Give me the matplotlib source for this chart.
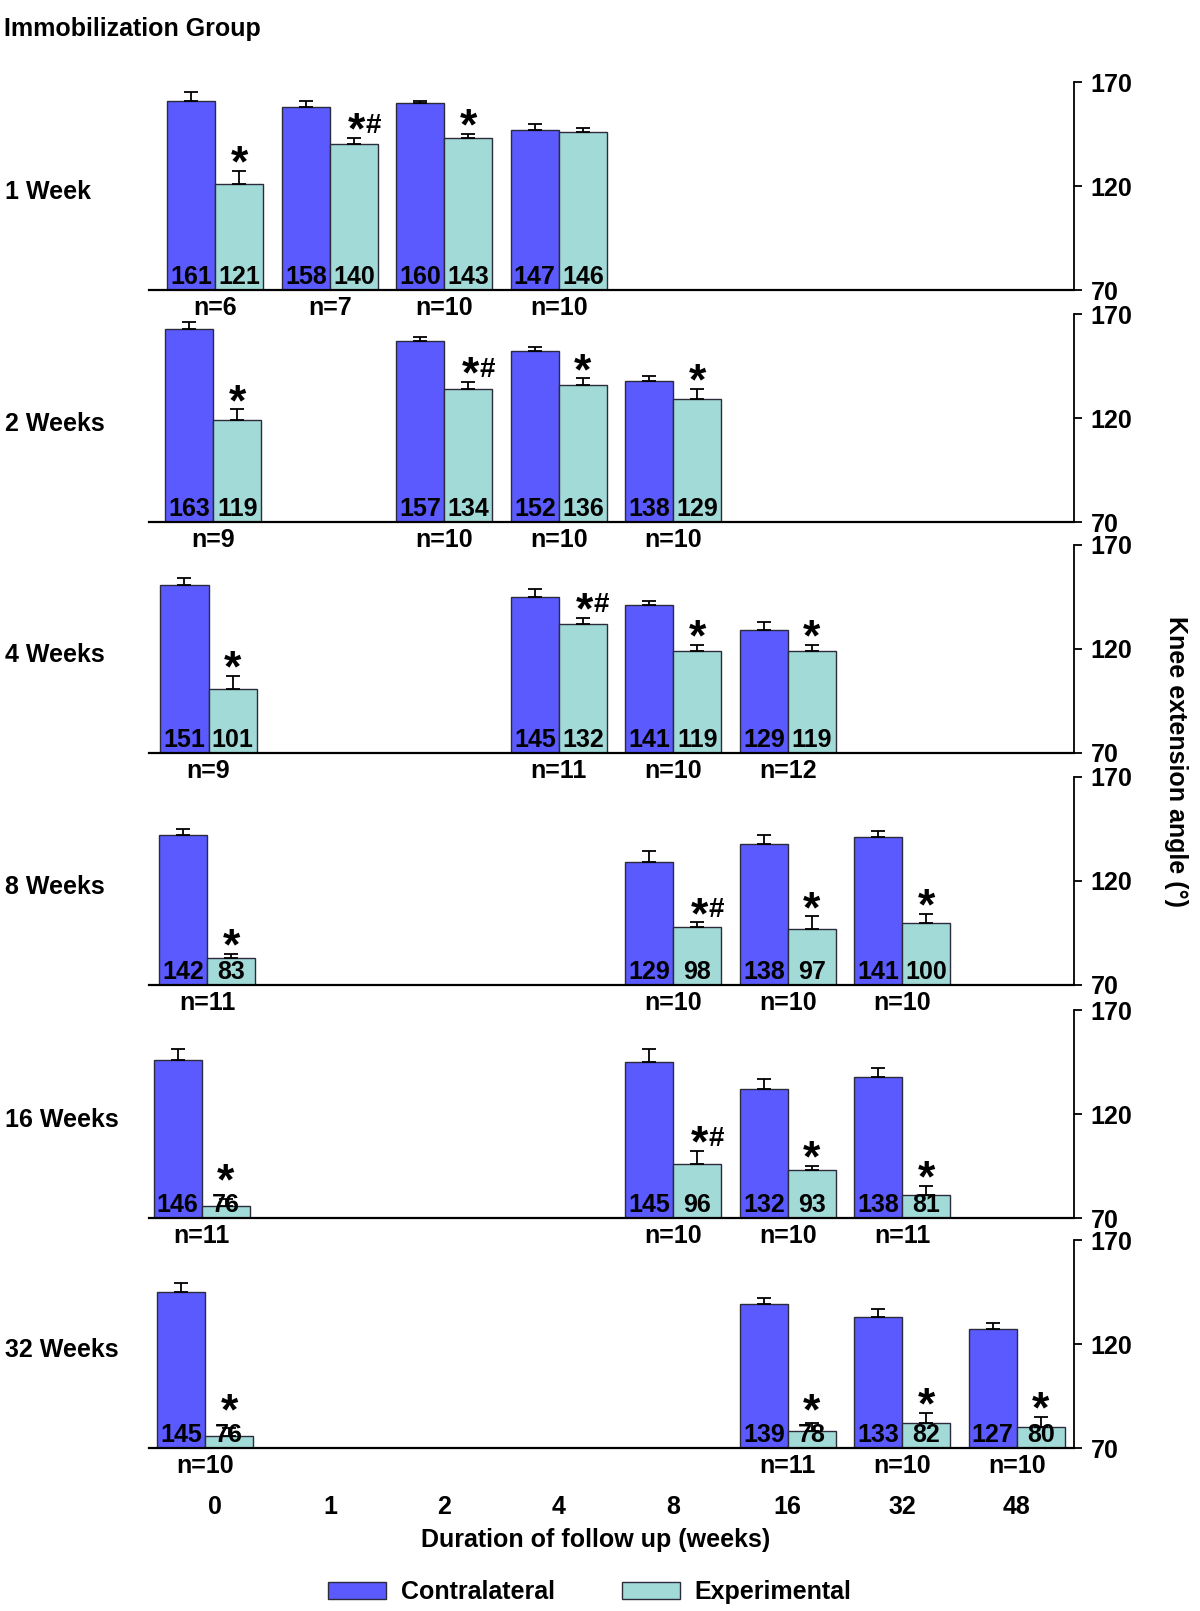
import matplotlib
matplotlib.use('Agg')
import matplotlib.pyplot as plt
from matplotlib.patches import Patch

plt.rcParams['font.family'] = ['Liberation Sans', 'DejaVu Sans']
plt.rcParams['font.weight'] = 'bold'

# x categories (weeks of follow up)
week_labels = ['0', '1', '2', '4', '8', '16', '32', '48']
row_names = ['1 Week', '2 Weeks', '4 Weeks', '8 Weeks', '16 Weeks', '32 Weeks']

# one list set per immobilization panel (index into week_labels)
p1_cats = [0, 1, 2, 3]
p1_contra = [161, 158, 160, 147]
p1_contra_se = [4.0, 3.0, 1.0, 3.0]
p1_exp = [121, 140, 143, 146]
p1_exp_se = [6.4, 3.0, 2.1, 2.1]
p1_n = [6, 7, 10, 10]
p1_marks = ['*', '*#', '*', '']

p2_cats = [0, 2, 3, 4]
p2_contra = [163, 157, 152, 138]
p2_contra_se = [3.0, 2.1, 1.9, 2.1]
p2_exp = [119, 134, 136, 129]
p2_exp_se = [5.1, 3.2, 3.0, 5.1]
p2_n = [9, 10, 10, 10]
p2_marks = ['*', '*#', '*', '*']

p3_cats = [0, 3, 4, 5]
p3_contra = [151, 145, 141, 129]
p3_contra_se = [3.0, 4.0, 1.9, 4.0]
p3_exp = [101, 132, 119, 119]
p3_exp_se = [6.2, 2.9, 2.9, 2.9]
p3_n = [9, 11, 10, 12]
p3_marks = ['*', '*#', '*', '*']

p4_cats = [0, 4, 5, 6]
p4_contra = [142, 129, 138, 141]
p4_contra_se = [2.9, 5.3, 4.0, 2.9]
p4_exp = [83, 98, 97, 100]
p4_exp_se = [2.1, 2.1, 6.0, 4.0]
p4_n = [11, 10, 10, 10]
p4_marks = ['*', '*#', '*', '*']

p5_cats = [0, 4, 5, 6]
p5_contra = [146, 145, 132, 138]
p5_contra_se = [5.1, 6.1, 4.8, 4.2]
p5_exp = [76, 96, 93, 81]
p5_exp_se = [3.0, 6.1, 2.1, 4.3]
p5_n = [11, 10, 10, 11]
p5_marks = ['*', '*#', '*', '*']

p6_cats = [0, 5, 6, 7]
p6_contra = [145, 139, 133, 127]
p6_contra_se = [4.2, 3.0, 4.0, 2.9]
p6_exp = [76, 78, 82, 80]
p6_exp_se = [3.5, 4.0, 5.0, 5.0]
p6_n = [10, 11, 10, 10]
p6_marks = ['*', '*', '*', '*']

panels = [
    (p1_cats, p1_contra, p1_contra_se, p1_exp, p1_exp_se, p1_n, p1_marks),
    (p2_cats, p2_contra, p2_contra_se, p2_exp, p2_exp_se, p2_n, p2_marks),
    (p3_cats, p3_contra, p3_contra_se, p3_exp, p3_exp_se, p3_n, p3_marks),
    (p4_cats, p4_contra, p4_contra_se, p4_exp, p4_exp_se, p4_n, p4_marks),
    (p5_cats, p5_contra, p5_contra_se, p5_exp, p5_exp_se, p5_n, p5_marks),
    (p6_cats, p6_contra, p6_contra_se, p6_exp, p6_exp_se, p6_n, p6_marks),
]

BLUE = '#5a5aff'
TEAL = '#a2dad8'
EDGE = '#2b2b3b'
W = 0.42

FIG_W, FIG_H = 1200, 1611
baselines = [290, 522, 753, 985, 1218, 1448]   # pixel rows of the 70 line
panel_h = 208
zero_shift = [0.0, -0.02, -0.06, -0.07, -0.12, -0.09]  # week-0 pair drifts left a bit

fig = plt.figure(figsize=(FIG_W / 100, FIG_H / 100), dpi=100)

for i, (cats, contra, contra_se, exp, exp_se, ns, marks) in enumerate(panels):
    ax = fig.add_axes([149 / FIG_W, 1 - baselines[i] / FIG_H, 925 / FIG_W, panel_h / FIG_H])
    xc = [c + (zero_shift[i] if c == 0 else 0) for c in cats]
    xb = [c - W / 2 for c in xc]
    xt = [c + W / 2 for c in xc]
    ax.bar(xb, [v - 70 for v in contra], bottom=70, width=W, color=BLUE,
           edgecolor=EDGE, linewidth=1.0, zorder=2)
    ax.bar(xt, [v - 70 for v in exp], bottom=70, width=W, color=TEAL,
           edgecolor=EDGE, linewidth=1.0, zorder=2)
    ax.errorbar(xb, contra, yerr=[[0] * len(cats), contra_se], fmt='none',
                ecolor='black', elinewidth=1.3, capsize=5, capthick=1.3, zorder=3)
    ax.errorbar(xt, exp, yerr=[[0] * len(cats), exp_se], fmt='none',
                ecolor='black', elinewidth=1.3, capsize=5, capthick=1.3, zorder=3)

    for j in range(len(cats)):
        # values inside bars
        ax.annotate(str(contra[j]), xy=(xb[j], 70), xytext=(0, 4), textcoords='offset points',
                    ha='center', va='baseline', fontsize=18, zorder=4)
        ax.annotate(str(exp[j]), xy=(xt[j], 70), xytext=(0, 4), textcoords='offset points',
                    ha='center', va='baseline', fontsize=18, zorder=4)
        # sample size under the pair
        ax.annotate('n=%d' % ns[j], xy=(xc[j], 70), xytext=(0, -4.5), textcoords='offset points',
                    ha='center', va='top', fontsize=18, annotation_clip=False)
        # significance marks above experimental bar, kept clear of the value text
        top = max(exp[j] + exp_se[j], 84)
        if marks[j] == '*':
            ax.annotate('*', xy=(xt[j], top), xytext=(0, -4), textcoords='offset points',
                        ha='center', va='baseline', fontsize=32, annotation_clip=False)
        elif marks[j] == '*#':
            ax.annotate('*', xy=(xt[j], top), xytext=(1.5, -4), textcoords='offset points',
                        ha='center', va='baseline', fontsize=32, annotation_clip=False)
            ax.annotate('#', xy=(xt[j], top), xytext=(8, 4), textcoords='offset points',
                        ha='left', va='baseline', fontsize=20, annotation_clip=False)

    ax.set_xlim(-0.58, 7.5)
    ax.set_ylim(70, 170)
    ax.spines['top'].set_visible(False)
    ax.spines['left'].set_visible(False)
    ax.spines['bottom'].set_linewidth(1.6)
    ax.spines['right'].set_linewidth(1.3)
    ax.yaxis.tick_right()
    ax.set_yticks([70, 120, 170])
    ax.tick_params(axis='y', direction='out', length=6, width=1.3, pad=6, labelsize=18)
    ax.set_xticks(range(len(week_labels)))
    if i == len(panels) - 1:
        ax.set_xticklabels(week_labels)
        ax.tick_params(axis='x', length=0, pad=34, labelsize=18)
    else:
        ax.set_xticklabels([])
        ax.tick_params(axis='x', length=0)
    ax.patch.set_alpha(0)

    fig.text(5 / FIG_W, 1 - (baselines[i] - panel_h * 0.47) / FIG_H, row_names[i],
             ha='left', va='center', fontsize=18)

fig.text(4 / FIG_W, 1 - 29 / FIG_H, 'Immobilization Group', ha='left', va='center', fontsize=18)
fig.text(1176 / FIG_W, 1 - 761 / FIG_H, 'Knee extension angle (°)', rotation=270,
         ha='center', va='center', fontsize=18)
fig.text(596 / FIG_W, 1 - 1540 / FIG_H, 'Duration of follow up (weeks)',
         ha='center', va='center', fontsize=18)

handles = [Patch(facecolor=BLUE, edgecolor=EDGE, label='Contralateral'),
           Patch(facecolor=TEAL, edgecolor=EDGE, label='Experimental')]
fig.legend(handles=handles, loc='center', bbox_to_anchor=(590 / FIG_W, 1 - 1592 / FIG_H),
           ncol=2, frameon=False, fontsize=18, handlelength=2.3, handleheight=0.7,
           handletextpad=0.6, columnspacing=2.7)

fig.savefig('out.png', dpi=100)
